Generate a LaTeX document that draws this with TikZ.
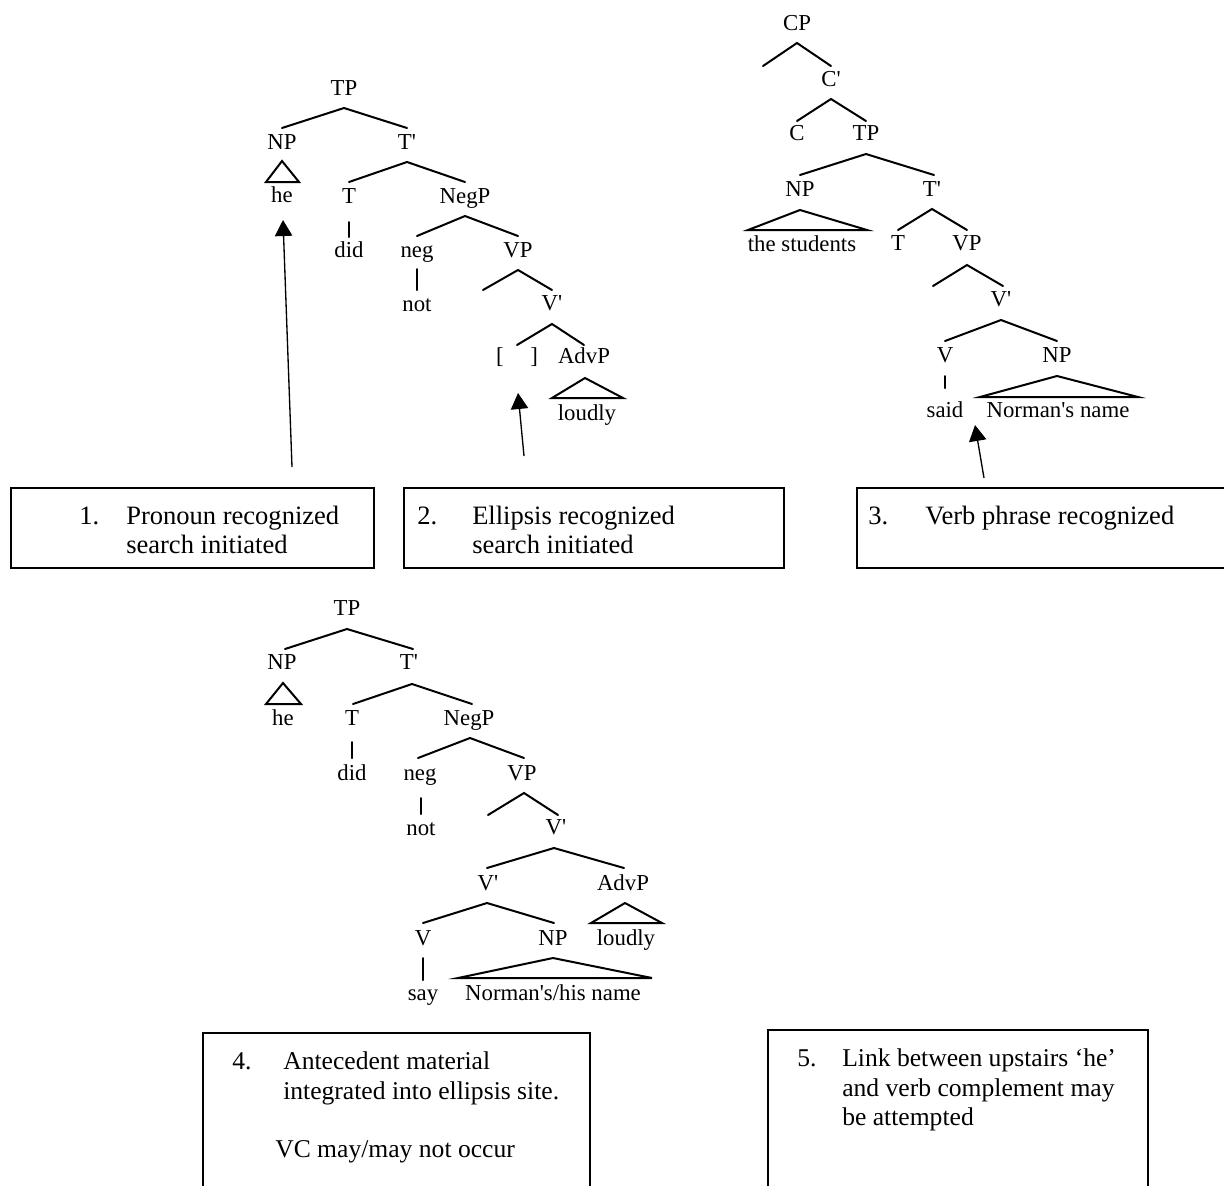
\documentclass[tikz,border=0pt]{standalone}
\usepackage{fontspec}
\setmainfont{Liberation Serif}
\usetikzlibrary{arrows.meta,calc}
\newcommand\treefnt{\fontsize{17.1pt}{20pt}\selectfont}
\newcommand\boxfnt{\fontsize{19.9pt}{22pt}\selectfont}
\newcommand\boxfntb{\fontsize{19.2pt}{22pt}\selectfont}
\newcommand\ap{\textquotesingle}
\begin{document}
\begin{tikzpicture}[x=0.75pt,y=-0.75pt,
  lab/.style={font=\treefnt, inner sep=0pt, text height=11.3pt, text depth=0pt},
  br/.style={line width=1.5pt, line cap=round},
  tri/.style={line width=1.5pt, line join=miter},
  arr/.style={line width=1pt, -{Triangle[length=12pt,width=13pt]}},
  bx/.style={line width=1.1pt},
  btxt/.style={font=\boxfnt, inner sep=0pt, anchor=base west},
  btxtb/.style={font=\boxfntb, inner sep=0pt, anchor=base west},
]
\useasboundingbox[fill=white] (0,0) rectangle (1224,1186);

% ---------------- Tree A (top left) ----------------
\node[lab] (aTP) at (344,88) {TP};
\node[lab] (aNP) at (282,142) {NP};
\node[lab] (aTb) at (407,142) {T\ap};
\node[lab] (ahe) at (282,195) {he};
\node[lab] (aT) at (349,196) {T};
\node[lab] (aNegP) at (465,196) {NegP};
\node[lab] (adid) at (349,250) {did};
\node[lab] (aneg) at (417,250) {neg};
\node[lab] (aVP) at (518,250) {VP};
\node[lab] (anot) at (417,304) {not};
\coordinate (ae1) at (483,290);
\node[lab] (aVb) at (552,303) {V\ap};
\node[lab] (agap) at (517,356) {[\hspace{20pt}]};
\node[lab] (aAdvP) at (584,356) {AdvP};
\node[lab] (aloudly) at (587,413) {loudly};

\draw[br] ($(aNP)+(0,-14)$) -- ($(aTP)+(0,20)$) -- ($(aTb)+(0,-14)$);
\draw[br] ($(aT)+(0,-14)$) -- ($(aTb)+(0,20)$) -- ($(aNegP)+(0,-14)$);
\draw[br] ($(aneg)+(0,-14)$) -- ($(aNegP)+(0,20)$) -- ($(aVP)+(0,-14)$);
\draw[br] (ae1) -- ($(aVP)+(0,20)$) -- ($(aVb)+(0,-13)$);
\draw[br] ($(agap)+(0,-11)$) -- ($(aVb)+(0,21)$) -- ($(aAdvP)+(0,-11)$);
\draw[br] ($(aT)+(0,26)$) -- ($(adid)+(0,-13)$);
\draw[br] ($(aneg)+(0,19)$) -- ($(anot)+(0,-14)$);
\draw[tri] ($(aNP)+(0,19)$) -- ($(ahe)+(-16,-13)$) -- ($(ahe)+(17,-13)$) -- cycle;
\draw[tri] ($(aAdvP)+(1,22)$) -- ($(aloudly)+(-35,-15)$) -- ($(aloudly)+(36,-15)$) -- cycle;

\coordinate (t1) at (292,467);
\coordinate (t2) at (524,456);
\draw[arr] (t1) -- ($(ahe)+(1,25)$);
\draw[arr] (t2) -- ($(agap)+(1,37)$);

% ---------------- Tree B (top right) ----------------
\node[lab] (bCP) at (797,23) {CP};
\coordinate (be1) at (763,66);
\node[lab] (bCb) at (831,79) {C\ap};
\node[lab] (bC) at (797,133) {C};
\node[lab] (bTP) at (866,133) {TP};
\node[lab] (bNP) at (800,189) {NP};
\node[lab] (bTb) at (932,189) {T\ap};
\node[lab] (bstud) at (802,244) {the students};
\node[lab] (bT) at (898,243) {T};
\node[lab] (bVP) at (967,243) {VP};
\coordinate (be2) at (933,286);
\node[lab] (bVb) at (1001,299) {V\ap};
\node[lab] (bV) at (945,355) {V};
\node[lab] (bNP2) at (1057,355) {NP};
\node[lab] (bsaid) at (945,410) {said};
\node[lab] (bname) at (1058,410) {Norman\ap s name};

\draw[br] (be1) -- ($(bCP)+(0,20)$) -- ($(bCb)+(0,-13)$);
\draw[br] ($(bC)+(0,-12)$) -- ($(bCb)+(0,20)$) -- ($(bTP)+(0,-12)$);
\draw[br] ($(bNP)+(0,-14)$) -- ($(bTP)+(0,21)$) -- ($(bTb)+(2,-14)$);
\draw[br] ($(bT)+(0,-13)$) -- ($(bTb)+(0,20)$) -- ($(bVP)+(0,-13)$);
\draw[br] (be2) -- ($(bVP)+(0,22)$) -- ($(bVb)+(2,-13)$);
\draw[br] ($(bV)+(0,-14)$) -- ($(bVb)+(0,21)$) -- ($(bNP2)+(0,-14)$);
\draw[br] ($(bV)+(0,21)$) -- ($(bsaid)+(0,-22)$);
\draw[tri] ($(bNP)+(0,21)$) -- ($(bNP)+(-52,41)$) -- ($(bNP)+(67,41)$) -- cycle;
\draw[tri] ($(bNP2)+(0,21)$) -- ($(bNP2)+(-77,42)$) -- ($(bNP2)+(81,42)$) -- cycle;

\coordinate (t3) at (984,478);
\draw[arr] (t3) -- ($(bsaid)+(30,15)$);

% ---------------- Tree C (bottom) ----------------
\node[lab] (cTP) at (347,608) {TP};
\node[lab] (cNP) at (282,662) {NP};
\node[lab] (cTb) at (409,662) {T\ap};
\node[lab] (che) at (283,718) {he};
\node[lab] (cT) at (352,718) {T};
\node[lab] (cNegP) at (469,718) {NegP};
\node[lab] (cdid) at (352,773) {did};
\node[lab] (cneg) at (420,773) {neg};
\node[lab] (cVP) at (522,773) {VP};
\node[lab] (cnot) at (421,828) {not};
\coordinate (ce1) at (488,815);
\node[lab] (cVb) at (556,827) {V\ap};
\node[lab] (cVb2) at (488,883) {V\ap};
\node[lab] (cAdvP) at (623,883) {AdvP};
\node[lab] (cV) at (423,938) {V};
\node[lab] (cNP2) at (553,938) {NP};
\node[lab] (cloudly) at (626,938) {loudly};
\node[lab] (csay) at (423,993) {say};
\node[lab] (cname) at (553,993) {Norman\ap s/his name};

\draw[br] ($(cNP)+(3,-13)$) -- ($(cTP)+(0,21)$) -- ($(cTb)+(4,-13)$);
\draw[br] ($(cT)+(1,-14)$) -- ($(cTb)+(3,22)$) -- ($(cNegP)+(3,-14)$);
\draw[br] ($(cneg)+(-2,-15)$) -- ($(cNegP)+(1,20)$) -- ($(cVP)+(2,-15)$);
\draw[br] (ce1) -- ($(cVP)+(2,20)$) -- ($(cVb)+(2,-12)$);
\draw[br] ($(cVb2)+(-1,-15)$) -- ($(cVb)+(-2,21)$) -- ($(cAdvP)+(1,-15)$);
\draw[br] ($(cV)+(0,-15)$) -- ($(cVb2)+(-1,20)$) -- ($(cNP2)+(1,-15)$);
\draw[br] ($(cT)+(0,24)$) -- ($(cdid)+(0,-15)$);
\draw[br] ($(cneg)+(1,25)$) -- ($(cnot)+(0,-14)$);
\draw[br] ($(cV)+(0,20)$) -- ($(csay)+(0,-13)$);
\draw[tri] ($(cNP)+(1,21)$) -- ($(cNP)+(-16,42)$) -- ($(cNP)+(19,42)$) -- cycle;
\draw[tri] ($(cAdvP)+(2,20)$) -- ($(cAdvP)+(-32,40)$) -- ($(cAdvP)+(39,40)$) -- cycle;
\draw[tri] ($(cNP2)+(0,20)$) -- ($(cNP2)+(-95,40)$) -- ($(cNP2)+(99,40)$) -- cycle;

% ---------------- Boxes ----------------
\node[draw, bx, inner sep=0pt, minimum width=272.25pt, minimum height=60pt] (box1) at (192.5,528) {};
\node[draw, bx, inner sep=0pt, minimum width=285pt, minimum height=60pt] (box2) at (594,528) {};
\draw[bx] (1224,488) -- (857,488) -- (857,568) -- (1224,568);
\draw[bx] (203,1186) -- (203,1033) -- (590,1033) -- (590,1186);
\draw[bx] (768,1186) -- (768,1030) -- (1148,1030) -- (1148,1186);

\node[btxt] (n1) at (79,524) {1.};
\node[btxt] (b1a) at (126,524) {Pronoun recognized};
\node[btxt] (b1b) at (126,553) {search initiated};

\node[btxt] (n2) at (417,524) {2.};
\node[btxt] (b2a) at (472,524) {Ellipsis recognized};
\node[btxt] (b2b) at (472,553) {search initiated};

\node[btxt] (n3) at (868,524) {3.};
\node[btxt] (b3a) at (925,524) {Verb phrase recognized};

\node[btxtb] (n4) at (232,1069) {4.};
\node[btxtb] (b4a) at (283,1069) {Antecedent material};
\node[btxtb] (b4b) at (283,1099) {integrated into ellipsis site.};
\node[btxtb] (b4c) at (275,1157) {VC may/may not occur};

\node[btxtb] (n5) at (797,1066) {5.};
\node[btxtb] (b5a) at (842,1066) {Link between upstairs ‘he’};
\node[btxtb] (b5b) at (842,1096) {and verb complement may};
\node[btxtb] (b5c) at (842,1125) {be attempted};
\end{tikzpicture}
\end{document}
